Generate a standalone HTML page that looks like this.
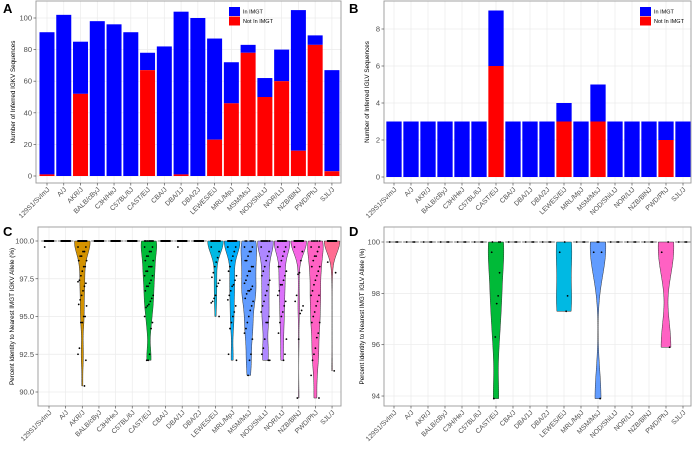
<!DOCTYPE html>
<html><head><meta charset="utf-8"><style>
html,body{margin:0;padding:0;background:#fff;}
svg text{font-family:"Liberation Sans",sans-serif;}
</style></head><body>
<svg id="fig" width="696" height="444" viewBox="0 0 696 444" xmlns="http://www.w3.org/2000/svg"></svg>
<script>
const strains=["129S1/SvImJ","A/J","AKR/J","BALB/cByJ","C3H/HeJ","C57BL/6J","CAST/EiJ","CBA/J","DBA/1J","DBA/2J","LEWES/EiJ","MRL/MpJ","MSM/MsJ","NOD/ShiLtJ","NOR/LtJ","NZB/BlNJ","PWD/PhJ","SJL/J"];
const igkvIn=[90,102,33,98,96,91,11,82,103,100,64,26,5,12,20,89,6,64];
const igkvNot=[1,0,52,0,0,0,67,0,1,0,23,46,78,50,60,16,83,3];
const iglvIn=[3,3,3,3,3,3,3,3,3,3,1,3,2,3,3,3,1,3];
const iglvNot=[0,0,0,0,0,0,6,0,0,0,3,0,3,0,0,0,2,0];
const aTicks=[0,20,40,60,80,100];
const bTicks=[0,2,4,6,8];
const cTicks=[90,92.5,95,97.5,100];
const cTickLabels=["90.0","92.5","95.0","97.5","100.0"];
const dTicks=[94,96,98,100];
const palette=["#F8766D","#E88526","#D39200","#B79F00","#93AA00","#5EB300","#00BA38","#00BF74","#00C19F","#00BFC4","#00B9E3","#00ADFA","#619CFF","#AE87FF","#DB72FB","#F564E3","#FF61C3","#FF6C91"];
const cVals=[[99.6],[],[99.6,99.6,99.3,99.3,99,99,98.7,98.7,98.3,98.3,98,97.7,97.4,97.3,97.2,97,96.7,96.4,96.1,95.8,95.7,95,95,94.6,94.6,92.9,92.5,92.1,90.4],[],[],[],
[99.6,99.6,99.3,99.3,99,99,98.7,98.7,98.3,98.3,98.3,98,98,97.7,97.7,97.4,97.2,97,97,96.7,96.4,96.2,96,95.8,95.7,95.6,95,94.6,94.2,92.5,92.1,92.1],[],[99.6],[],
[99.6,99.3,98.9,98.6,98.3,97.9,97.6,97.4,97.2,97,96.4,96.2,96,95.9,95.0],
[99.6,99.6,99.3,99,98.7,98.3,98,97.7,97.4,97.1,97,96.7,96.4,96.1,95.7,95.3,95,94.6,94.2,92.5,92.1],
[99.6,99.6,99.3,99.3,99,98.7,98.7,98.3,98.3,98,98,97.7,97.4,97.2,97,96.8,96.7,96.7,96.5,96.2,96,95.7,95.4,95,94.6,94.2,93.9,93.5,92.5,92.1,91.1],
[99.6,99.3,99,98.7,98.3,98,97.7,97.4,97.1,96.7,96.4,96,95.7,95.3,95,94.6,94.6,93.5,92.9,92.5,92.1,92.1],
[99.6,99.6,99.3,99,98.7,98.3,98.3,98,97.7,97.4,97.1,97.1,96.7,96.4,96,95.7,95.3,95,94.6,93.9,93.5,92.5,92.1],
[99.6,99.3,98.7,97.9,97.8,96.4,96,95.7,95.4,95.2,93.5,89.6],
[99.6,99.6,99.3,99,99,98.7,98.3,98.3,98,97.7,97.4,97.1,96.7,96.4,96.4,96,95.7,95.3,95,94.6,94.6,93.9,93.6,92.9,92.5,92.1,91.1,89.6],
[98.6,97.9,91.4]];
const dVals=[[],[],[],[],[],[],[99.6,98.8,97.9,97.6,96.3,93.9],[],[],[],[99.6,97.9,97.3],[],[99.6,99.6,93.9],[],[],[],[99.6,95.9],[]];

const NS="http://www.w3.org/2000/svg";
const svg=document.getElementById("fig");
function mk(tag,attrs,parent){const e=document.createElementNS(NS,tag);for(const k in attrs)e.setAttribute(k,attrs[k]);(parent||svg).appendChild(e);return e;}

function panel(p){
  const g=mk("g",{});
  
  
  p.ticks.forEach((t,i)=>{const l=mk("line",{x1:p.L,x2:p.R,y1:p.y(t),y2:p.y(t),stroke:"#EBEBEB","stroke-width":0.7},g);
    
    });
  strains.forEach((s,i)=>{const l=mk("line",{x1:p.x(i),x2:p.x(i),y1:p.T,y2:p.B,stroke:"#EBEBEB","stroke-width":0.7},g);
    
    });
  p.draw(g);
  const br=mk("rect",{x:p.L,y:p.T,width:p.R-p.L,height:p.B-p.T,fill:"none",stroke:"#999","stroke-width":0.9},g);
  
  
  p.ticks.forEach((t,i)=>{
    mk("line",{x1:p.L-2.5,x2:p.L,y1:p.y(t),y2:p.y(t),stroke:"#555","stroke-width":0.7},g);
    const tx=mk("text",{x:p.L-4,y:p.y(t)+2.5,"font-size":7.5,fill:"#4D4D4D","text-anchor":"end"},g);
    tx.textContent=p.tickLabels?p.tickLabels[i]:t;
    
    
  });
  strains.forEach((s,i)=>{
    mk("line",{x1:p.x(i),x2:p.x(i),y1:p.B,y2:p.B+2.5,stroke:"#555","stroke-width":0.7},g);
    const tx=mk("text",{x:p.x(i)+3,y:p.B+7,"font-size":6.8,fill:"#4D4D4D","text-anchor":"end",transform:`rotate(-45 ${p.x(i)+3} ${p.B+7})`},g);
    tx.textContent=s;
    
    
  });
  const yt=mk("text",{x:p.tx,y:(p.T+p.B)/2,"font-size":6.3,fill:"#000","text-anchor":"middle",transform:`rotate(-90 ${p.tx} ${(p.T+p.B)/2})`},g);
  yt.textContent=p.ytitle;
  
  
  const lt=mk("text",{x:p.lx,y:p.ly,"font-size":13,"font-weight":"bold",fill:"#000"},g);
  lt.textContent=p.letter;
  
  
}

function bars(p,inA,notA,bw){return g=>{
  strains.forEach((s,i)=>{
    const tot=inA[i]+notA[i];
    const r1=mk("rect",{x:p.x(i)-bw/2,y:p.y(tot),width:bw,height:p.y(notA[i])-p.y(tot),fill:"#0000FF"},g);
    
    
    if(notA[i]>0){const r2=mk("rect",{x:p.x(i)-bw/2,y:p.y(notA[i]),width:bw,height:p.y(0)-p.y(notA[i]),fill:"#FF0000"},g);
      
      }
  });
  const lx=p.legX,ly=p.legY;
  const b1=mk("rect",{x:lx,y:ly,width:11,height:9,fill:"#0000FF"},g);
  
  
  const b2=mk("rect",{x:lx,y:ly+9.5,width:11,height:9,fill:"#FF0000"},g);
  
  
  const t1=mk("text",{x:lx+14,y:ly+6.5,"font-size":5.5,fill:"#000"},g);t1.textContent="In IMGT";
  
  
  const t2=mk("text",{x:lx+14,y:ly+16,"font-size":5.5,fill:"#000"},g);t2.textContent="Not In IMGT";
  
  
};}

function violins(p,vals,ident,bwK,halfW,pw){return g=>{
  strains.forEach((s,i)=>{
    const all=vals[i].concat(Array(ident[i]).fill(100));
    const mn=Math.min(...all),mx=100;
    if(vals[i].length>=2&&mn<100){
      const n=80,dens=[];let dm=0;
      for(let k=0;k<=n;k++){const v=mn+(mx-mn)*k/n;let d=0;all.forEach(a=>{d+=Math.exp(-0.5*((v-a)/bwK)**2);});d=Math.pow(d,pw);dens.push([v,d]);if(d>dm)dm=d;}
      let path="";
      dens.forEach(([v,d],k)=>{path+=(k?"L":"M")+(p.x(i)+d/dm*halfW).toFixed(2)+","+p.y(v).toFixed(2);});
      for(let k=n;k>=0;k--){const [v,d]=dens[k];path+="L"+(p.x(i)-d/dm*halfW).toFixed(2)+","+p.y(v).toFixed(2);}
      const vp=mk("path",{d:path+"Z",fill:palette[i],stroke:"#333","stroke-width":0.5},g);
      
      
    }else{
      const ln=mk("line",{x1:p.x(i)-halfW,x2:p.x(i)+halfW,y1:p.y(100),y2:p.y(100),stroke:"#555","stroke-width":0.8},g);
      
      
    }
    all.forEach((v,k)=>{
      const jx=(((k*37)%13)-6)/6*halfW*0.55;
      const c=mk("circle",{cx:p.x(i)+jx,cy:p.y(v),r:0.9,fill:"#000"},g);
      
      
    });
  });
};}

const pA={name:"panel-a",L:36,R:341,T:1,B:183,x:i=>47+i*16.76,y:v=>176-v*1.58,ticks:aTicks,ytitle:"Number of Inferred IGKV Sequences",tx:15,letter:"A",lx:3,ly:13,legX:229,legY:7};
pA.draw=bars(pA,igkvIn,igkvNot,15);
const pB={name:"panel-b",L:384,R:691,T:1,B:183,x:i=>394+i*17.0,y:v=>177-v*18.5,ticks:bTicks,ytitle:"Number of Inferred IGLV Sequences",tx:369,letter:"B",lx:349,ly:13,legX:640,legY:7};
pB.draw=bars(pB,iglvIn,iglvNot,15.3);
const pC={name:"panel-c",L:38,R:341,T:227,B:406,x:i=>49+i*16.65,y:v=>241+(100-v)*15.1,ticks:cTicks,tickLabels:cTickLabels,ytitle:"Percent Identity to Nearest IMGT IGKV Allele (%)",tx:14,letter:"C",lx:3,ly:236};
pC.draw=violins(pC,cVals,igkvIn,0.7,7.8,0.75);
const pD={name:"panel-d",L:384,R:691,T:227,B:406,x:i=>394+i*17.0,y:v=>242+(100-v)*25.67,ticks:dTicks,ytitle:"Percent Identity to Nearest IMGT IGLV Allele (%)",tx:364,letter:"D",lx:349,ly:236};
pD.draw=violins(pD,dVals,iglvIn,0.9,7.8,0.7);
[pA,pB,pC,pD].forEach(panel);
</script>
</body></html>
